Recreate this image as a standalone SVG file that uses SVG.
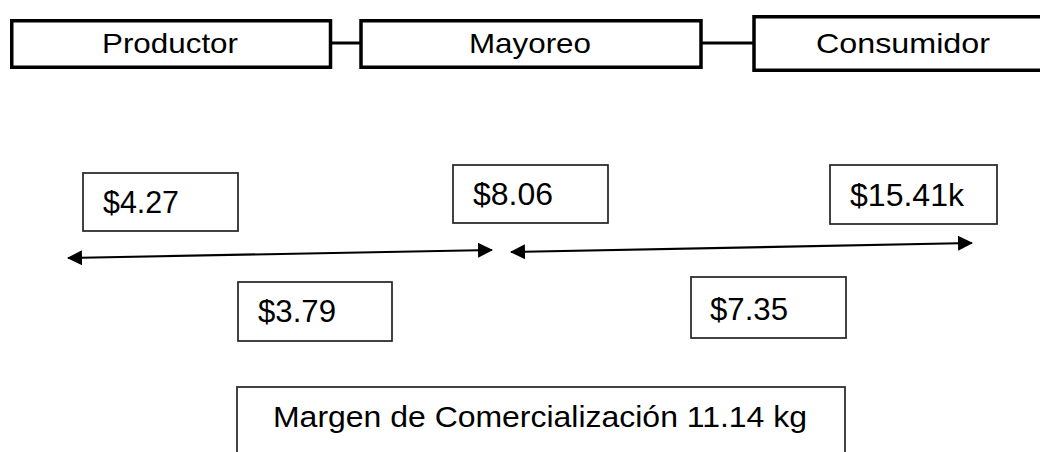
<svg xmlns="http://www.w3.org/2000/svg" width="1040" height="452" viewBox="0 0 1040 452">
<style>
.stage{fill:#fff;stroke:#000;stroke-width:3.5}
.val{fill:#fff;stroke:#222;stroke-width:1.7}
.t{font-family:"Liberation Sans",Arial,sans-serif;fill:#000}
.link{stroke:#000;stroke-width:3;fill:none}
.arr{stroke:#000;stroke-width:2.2;fill:none;marker-start:url(#ah);marker-end:url(#ah)}
</style>
<defs>
<marker id="ah" viewBox="0 0 15 15" refX="14" refY="7.5" markerWidth="15" markerHeight="15" markerUnits="userSpaceOnUse" orient="auto-start-reverse">
<path d="M0,0 L15,7.5 L0,15 z" fill="#000"/>
</marker>
</defs>
<rect width="1040" height="452" fill="#fff"/>
<g id="connectors">
<line class="link" x1="332" y1="43" x2="360" y2="43"/>
<line class="link" x1="702" y1="43" x2="753" y2="43"/>
<line class="arr" x1="68" y1="258" x2="492" y2="250"/>
<line class="arr" x1="511" y1="252" x2="972" y2="243"/>
</g>
<g id="productor">
<rect class="stage" x="11.75" y="20.75" width="318.75" height="46.5"/>
<text class="t" x="102" y="53" font-size="28.5" textLength="136" lengthAdjust="spacingAndGlyphs">Productor</text>
</g>
<g id="mayoreo">
<rect class="stage" x="361" y="20.75" width="340" height="46.5"/>
<text class="t" x="469" y="53" font-size="28.5" textLength="122" lengthAdjust="spacingAndGlyphs">Mayoreo</text>
</g>
<g id="consumidor">
<rect class="stage" x="754" y="16.75" width="300" height="53.5"/>
<text class="t" x="816" y="53" font-size="28.5" textLength="174" lengthAdjust="spacingAndGlyphs">Consumidor</text>
</g>
<g id="p427">
<rect class="val" x="83" y="173" width="155" height="58"/>
<text class="t" x="103" y="213" font-size="32" textLength="76" lengthAdjust="spacingAndGlyphs">$4.27</text>
</g>
<g id="p806">
<rect class="val" x="453" y="165" width="155" height="58"/>
<text class="t" x="473" y="205" font-size="32" textLength="80" lengthAdjust="spacingAndGlyphs">$8.06</text>
</g>
<g id="p1541">
<rect class="val" x="830" y="165" width="167" height="59"/>
<text class="t" x="850" y="206" font-size="32" textLength="114" lengthAdjust="spacingAndGlyphs">$15.41k</text>
</g>
<g id="p379">
<rect class="val" x="238" y="282" width="154" height="59"/>
<text class="t" x="258" y="322" font-size="32" textLength="78" lengthAdjust="spacingAndGlyphs">$3.79</text>
</g>
<g id="p735">
<rect class="val" x="691" y="277" width="155" height="61"/>
<text class="t" x="710" y="320" font-size="32" textLength="78" lengthAdjust="spacingAndGlyphs">$7.35</text>
</g>
<g id="margen">
<rect class="val" x="237" y="387" width="608" height="80"/>
<text class="t" x="273" y="427" font-size="30" textLength="534" lengthAdjust="spacingAndGlyphs">Margen de Comercialización 11.14 kg</text>
</g>
</svg>
